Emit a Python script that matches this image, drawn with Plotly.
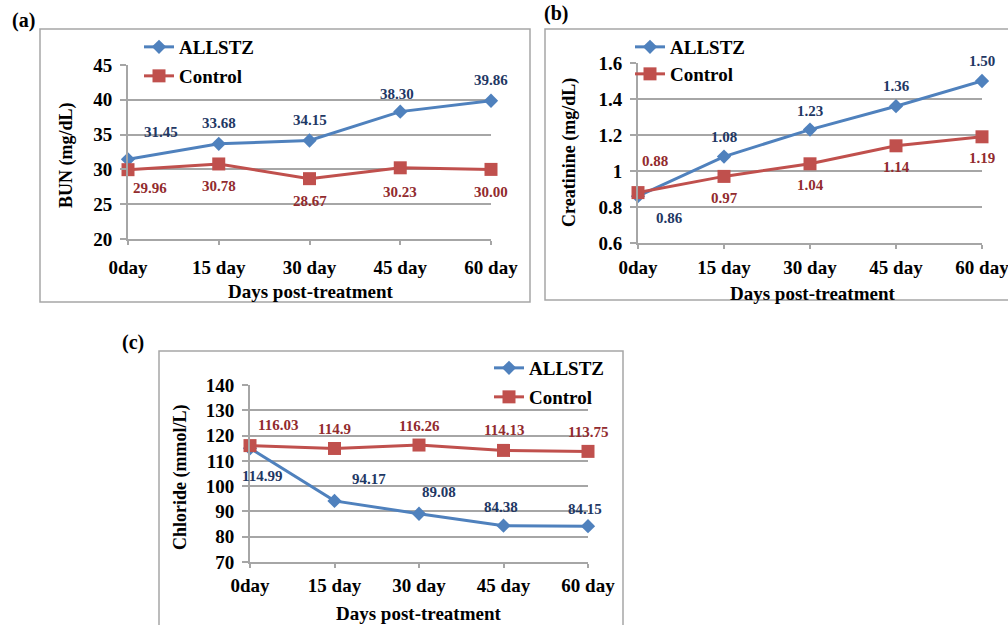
import plotly.graph_objects as go

W, H = 1008, 625

days = ["0day", "15 day", "30 day", "45 day", "60 day"]

bun_allstz = [31.45, 33.68, 34.15, 38.30, 39.86]
bun_control = [29.96, 30.78, 28.67, 30.23, 30.00]
bun_allstz_txt = ["31.45", "33.68", "34.15", "38.30", "39.86"]
bun_control_txt = ["29.96", "30.78", "28.67", "30.23", "30.00"]

cre_allstz = [0.86, 1.08, 1.23, 1.36, 1.50]
cre_control = [0.88, 0.97, 1.04, 1.14, 1.19]
cre_allstz_txt = ["0.86", "1.08", "1.23", "1.36", "1.50"]
cre_control_txt = ["0.88", "0.97", "1.04", "1.14", "1.19"]

chl_allstz = [114.99, 94.17, 89.08, 84.38, 84.15]
chl_control = [116.03, 114.9, 116.26, 114.13, 113.75]
chl_allstz_txt = ["114.99", "94.17", "89.08", "84.38", "84.15"]
chl_control_txt = ["116.03", "114.9", "116.26", "114.13", "113.75"]

# label offsets in pixels (dx, dy with dy downward)
off_bun_a = [(33, -27), (0, -21), (0, -21), (-3, -18), (0, -21)]
off_bun_c = [(22, 18), (0, 22), (0, 22), (0, 24), (0, 23)]
off_cre_a = [(31, 22), (0, -20), (0, -19), (0, -20), (0, -20)]
off_cre_c = [(17, -32), (0, 22), (0, 21), (0, 21), (0, 21)]
off_chl_a = [(12, 28), (34, -22), (20, -22), (-3, -19), (-3, -17)]
off_chl_c = [(28, -21), (0, -19), (0, -19), (0, -20), (0, -19)]

BLUE = "#4F81BD"
RED = "#C0504D"
BLUE_TXT = "#1F3864"
RED_TXT = "#922B2E"
GRID = "#A6A6A6"
FONT = "Liberation Serif, Times New Roman, serif"


def px(x):
    return x / W


def py(y):
    return 1 - y / H


fig = go.Figure()

panels = [
    dict(xa="x", ya="y", A=bun_allstz, C=bun_control, At=bun_allstz_txt, Ct=bun_control_txt,
         oa=off_bun_a, oc=off_bun_c, xd=(128, 491), yd=(65, 239), rng=[20, 45], dt=5,
         lgA=(147, 47), lgC=(147, 76), ytitle="BUN (mg/dL)", ytpos=(66, 155),
         xtpos=(310, 291), tag="(a)", tagpos=(23, 21), stand=6),
    dict(xa="x2", ya="y2", A=cre_allstz, C=cre_control, At=cre_allstz_txt, Ct=cre_control_txt,
         oa=off_cre_a, oc=off_cre_c, xd=(638, 982), yd=(63, 243), rng=[0.6, 1.6], dt=0.2,
         lgA=(638, 47), lgC=(638, 74), ytitle="Creatinine (mg/dL)", ytpos=(569, 153),
         xtpos=(812, 293), tag="(b)", tagpos=(556, 14), stand=2),
    dict(xa="x3", ya="y3", A=chl_allstz, C=chl_control, At=chl_allstz_txt, Ct=chl_control_txt,
         oa=off_chl_a, oc=off_chl_c, xd=(250, 588), yd=(385, 562), rng=[70, 140], dt=10,
         lgA=(497, 368), lgC=(497, 397), ytitle="Chloride (mmol/L)", ytpos=(180, 477),
         xtpos=(418, 613), tag="(c)", tagpos=(133, 342), stand=1),
]

annotations = []
shapes = []
layout_extra = {}
leg_idx = 1

for i, p in enumerate(panels):
    for name, vals, color, sym, size, lg in [
        ("ALLSTZ", p["A"], BLUE, "diamond", 11, p["lgA"]),
        ("Control", p["C"], RED, "square", 13, p["lgC"]),
    ]:
        lname = "legend" if leg_idx == 1 else f"legend{leg_idx}"
        fig.add_trace(go.Scatter(
            x=days, y=vals, mode="lines+markers", name=name,
            line=dict(color=color, width=3),
            marker=dict(symbol=sym, size=size, color=color),
            xaxis=p["xa"], yaxis=p["ya"], cliponaxis=False,
            legend=lname, showlegend=True,
        ))
        layout_extra[lname] = dict(
            x=px(lg[0] - 8), y=py(lg[1]), xanchor="left", yanchor="middle",
            xref="container", yref="container",
            bgcolor="rgba(0,0,0,0)", borderwidth=0,
            font=dict(family=FONT, size=19, color="black", weight="bold"),
        )
        leg_idx += 1

    for vals, txts, offs, col in [(p["A"], p["At"], p["oa"], BLUE_TXT),
                                  (p["C"], p["Ct"], p["oc"], RED_TXT)]:
        for d, v, t, o in zip(days, vals, txts, offs):
            annotations.append(dict(
                x=d, y=v, xref=p["xa"], yref=p["ya"], text=t, showarrow=False,
                xshift=o[0], yshift=-o[1],
                font=dict(family=FONT, size=15, color=col, weight="bold"),
            ))

    axn = "" if i == 0 else str(i + 1)
    layout_extra["xaxis" + axn] = dict(
        domain=[px(p["xd"][0]), px(p["xd"][1])], anchor=p["ya"],
        type="category", categoryorder="array", categoryarray=days,
        range=[0, 4], showgrid=False, zeroline=False, automargin=False,
        showline=True, linecolor=GRID, linewidth=2,
        ticks="outside", ticklen=4, tickcolor=GRID, tickwidth=2,
        ticklabelstandoff=p["stand"],
        tickfont=dict(family=FONT, size=19, color="black", weight="bold"),
    )
    layout_extra["yaxis" + axn] = dict(
        domain=[py(p["yd"][1]), py(p["yd"][0])], anchor=p["xa"],
        range=p["rng"], dtick=p["dt"], tick0=p["rng"][0],
        showgrid=True, gridcolor=GRID, gridwidth=1.5, zeroline=False, automargin=False,
        showline=True, linecolor=GRID, linewidth=2,
        ticks="outside", ticklen=6, tickcolor=GRID, tickwidth=2,
        ticklabelstandoff=4,
        tickfont=dict(family=FONT, size=19, color="black", weight="bold"),
    )
    annotations.append(dict(
        x=px(p["ytpos"][0]), y=py(p["ytpos"][1]), xref="paper", yref="paper",
        text=p["ytitle"], textangle=-90, showarrow=False,
        xanchor="center", yanchor="middle",
        font=dict(family=FONT, size=18, color="black", weight="bold"),
    ))
    annotations.append(dict(
        x=px(p["xtpos"][0]), y=py(p["xtpos"][1]), xref="paper", yref="paper",
        text="Days post-treatment", showarrow=False,
        xanchor="center", yanchor="middle",
        font=dict(family=FONT, size=19, color="black", weight="bold"),
    ))
    annotations.append(dict(
        x=px(p["tagpos"][0]), y=py(p["tagpos"][1]), xref="paper", yref="paper",
        text=p["tag"], showarrow=False, xanchor="center", yanchor="middle",
        font=dict(family=FONT, size=20, color="black", weight="bold"),
    ))

for (x0, y0, x1, y1) in [(40, 29, 530, 302), (545, 29, 1012, 300), (159, 351, 623, 630)]:
    shapes.append(dict(type="rect", xref="paper", yref="paper",
                       x0=px(x0), x1=px(x1), y0=py(y0), y1=py(y1),
                       line=dict(color=GRID, width=1.5), fillcolor="rgba(0,0,0,0)",
                       layer="below"))

fig.update_layout(
    width=W, height=H, margin=dict(l=0, r=0, t=0, b=0, autoexpand=False),
    paper_bgcolor="white", plot_bgcolor="white",
    font=dict(family=FONT),
    annotations=annotations, shapes=shapes,
    **layout_extra,
)

fig.write_html("out.html")
